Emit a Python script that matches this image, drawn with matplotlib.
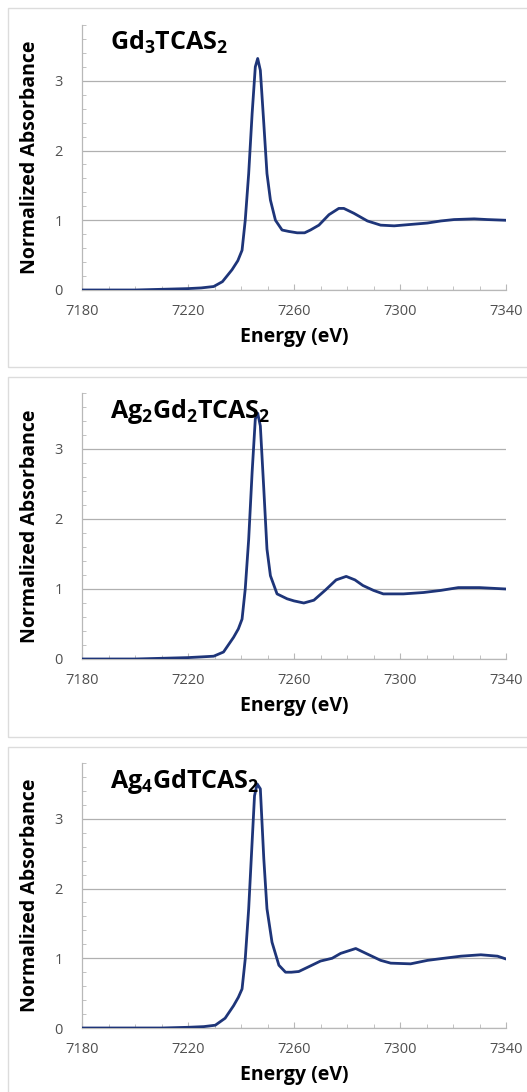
import matplotlib
matplotlib.use("Agg")
import matplotlib.pyplot as plt
from matplotlib.patches import Rectangle
from matplotlib.ticker import MultipleLocator

plt.rcParams['font.family'] = ['Open Sans', 'DejaVu Sans']
plt.rcParams['mathtext.fontset'] = 'custom'
plt.rcParams['mathtext.rm'] = 'Open Sans'
plt.rcParams['mathtext.bf'] = 'Open Sans:bold'

titles = [r'$\mathbf{Gd_3TCAS_2}$', r'$\mathbf{Ag_2Gd_2TCAS_2}$', r'$\mathbf{Ag_4GdTCAS_2}$']
xlabel = 'Energy (eV)'
ylabel = 'Normalized Absorbance'
xticks = [7180, 7220, 7260, 7300, 7340]
yticks = [0, 1, 2, 3]

e1 = [7180, 7190, 7200, 7210, 7220, 7225, 7229.7, 7233, 7236.6, 7238.8, 7240.4, 7241.6, 7242.9,
      7244.2, 7245.4, 7246.3, 7247.3, 7248.6, 7249.8, 7251.1, 7253, 7255.5, 7258, 7261.2, 7264,
      7266.2, 7269.4, 7273.2, 7276.9, 7278.8, 7282.6, 7287.7, 7292.7, 7297.8, 7304, 7310.3,
      7315.4, 7320.4, 7328, 7333, 7340]
a1 = [0.0, 0.0, 0.0, 0.01, 0.02, 0.03, 0.05, 0.12, 0.29, 0.42, 0.57, 1.0, 1.67,
      2.53, 3.2, 3.32, 3.15, 2.39, 1.67, 1.29, 1.0, 0.86, 0.84, 0.82, 0.82,
      0.86, 0.93, 1.08, 1.17, 1.17, 1.10, 0.99, 0.93, 0.92, 0.94, 0.96,
      0.99, 1.01, 1.02, 1.01, 1.0]

e2 = [7180, 7190, 7200, 7210, 7220, 7225, 7229.7, 7233.4, 7237.2, 7239, 7240.4, 7241.6, 7242.9,
      7244.2, 7245.4, 7246.3, 7247.3, 7248.6, 7249.8, 7251.1, 7253.6, 7257.4, 7260, 7263.7,
      7267.5, 7272, 7275.9, 7279.7, 7283, 7286, 7290, 7293.7, 7301.3, 7308.9, 7315.4, 7322,
      7330, 7335, 7340]
a2 = [0.0, 0.0, 0.0, 0.01, 0.02, 0.03, 0.04, 0.10, 0.31, 0.43, 0.57, 1.0, 1.71,
      2.67, 3.43, 3.51, 3.33, 2.43, 1.57, 1.19, 0.93, 0.86, 0.83, 0.80,
      0.84, 0.99, 1.13, 1.18, 1.13, 1.05, 0.98, 0.93, 0.93, 0.95, 0.98, 1.02,
      1.02, 1.01, 1.0]

e3 = [7180, 7190, 7200, 7210, 7220, 7226, 7230.3, 7234, 7237.2, 7239, 7240.4, 7241.6, 7242.9,
      7244.2, 7245.1, 7246.1, 7247.3, 7248.6, 7249.8, 7251.7, 7254.3, 7256.8, 7259, 7261.8,
      7266.2, 7270, 7274.4, 7277.6, 7283.3, 7287.7, 7292.7, 7296.5, 7304, 7310.4, 7316.6,
      7323, 7330.5, 7336.8, 7340]
a3 = [0.0, 0.0, 0.0, 0.0, 0.01, 0.02, 0.04, 0.14, 0.32, 0.44, 0.56, 0.99, 1.71,
      2.67, 3.33, 3.50, 3.43, 2.43, 1.71, 1.23, 0.90, 0.80, 0.80, 0.81,
      0.89, 0.96, 1.0, 1.07, 1.14, 1.06, 0.97, 0.93, 0.92, 0.97, 1.0,
      1.03, 1.05, 1.03, 0.99]

energies = [e1, e2, e3]
absorb = [a1, a2, a3]

W, H = 527, 1092
fig = plt.figure(figsize=(W / 100, H / 100), dpi=100)

# panel frames (top, bottom in pixels)
frames = [(8, 367), (377, 737), (747, 1100)]
for top, bot in frames:
    fig.patches.append(Rectangle((8 / W, 1 - bot / H), (W + 10 - 8) / W, (bot - top) / H,
                                 transform=fig.transFigure, facecolor='none',
                                 edgecolor='#dcdcdc', linewidth=1.0, zorder=-1))

axes_px = [(25, 290), (393, 659), (763, 1028)]
left, right = 82, 506
line_color = '#1e3579'
for i, (top, bot) in enumerate(axes_px):
    ax = fig.add_axes([left / W, 1 - bot / H, (right - left) / W, (bot - top) / H])
    ax.plot(energies[i], absorb[i], color=line_color, lw=2.0, zorder=3,
            solid_joinstyle='round')
    ax.set_xlim(7180, 7340)
    ax.set_ylim(0, 3.8)
    ax.set_xticks(xticks)
    ax.set_yticks(yticks)
    ax.xaxis.set_minor_locator(MultipleLocator(10))
    ax.yaxis.set_minor_locator(MultipleLocator(0.2))
    ax.grid(axis='y', which='major', color='#b0b0b0', lw=0.9, zorder=1)
    for s in ['top', 'right']:
        ax.spines[s].set_visible(False)
    for s in ['left', 'bottom']:
        ax.spines[s].set_color('#b8b8b8')
        ax.spines[s].set_linewidth(0.9)
    ax.tick_params(axis='both', which='both', color='#b8b8b8', labelcolor='#505050',
                   labelsize=10.5)
    ax.tick_params(axis='y', which='major', length=0, pad=14)
    ax.tick_params(axis='y', which='minor', length=3, direction='in')
    ax.tick_params(axis='x', which='major', length=4, direction='in', pad=10)
    ax.tick_params(axis='x', which='minor', length=3, direction='in')
    ax.set_xlabel(xlabel, fontsize=14, fontweight='bold', labelpad=6)
    ax.set_ylabel(ylabel, fontsize=14, fontweight='bold', labelpad=10)
    ax.text(0.065, 0.905, titles[i], transform=ax.transAxes, fontsize=18,
            va='baseline', ha='left', zorder=4)
    ax.set_facecolor('none')

fig.savefig('out.png', dpi=100, facecolor='white')
